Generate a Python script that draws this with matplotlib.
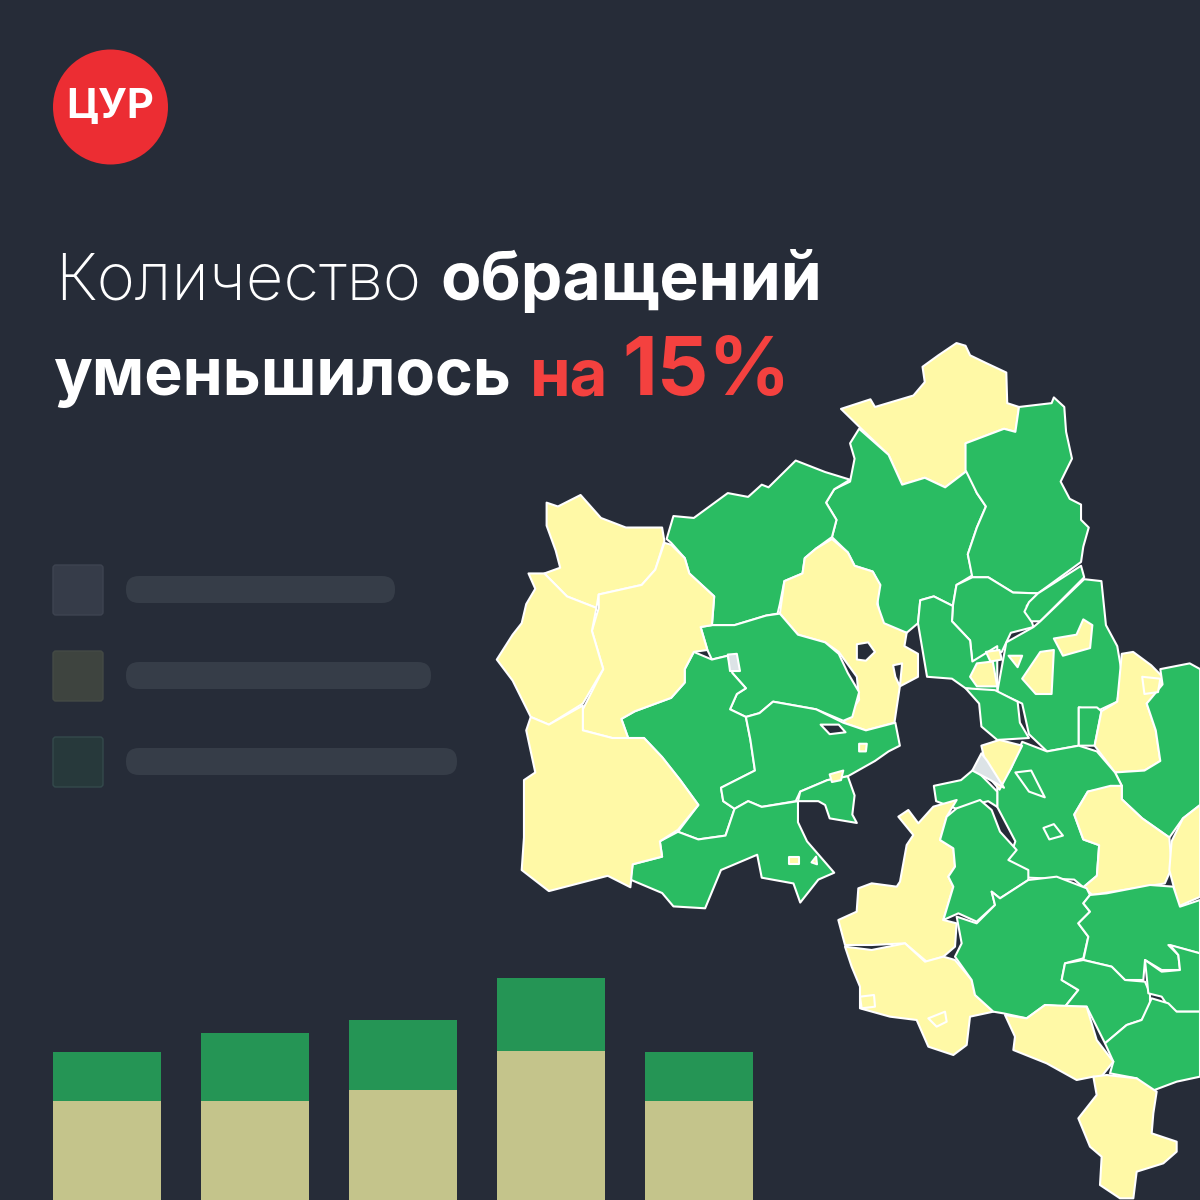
import matplotlib
matplotlib.use("Agg")
import matplotlib.pyplot as plt
from matplotlib.patches import Polygon, Circle, FancyBboxPatch

BG = "#262C38"
GREEN = "#2ABC62"
YELLOW = "#FFF9A6"
RED = "#EC2D33"
TITLE_RED = "#F4413F"
FONT = "Inter"

# stacked bars, values read in pixels of bar height
bar_lower = [99, 99, 110, 149, 99]
bar_upper = [49, 68, 70, 73, 49]
bar_left = [53, 201, 349, 497, 645]

# faded legend
legend_swatch = ["#363C49", "#3E443F", "#27393B"]
legend_edge = ["#3E4451", "#444A45", "#344A4C"]
legend_y = [565, 651, 737]
legend_pill_right = [395, 431, 457]

# map outlines, (source crop, colour class, outline)
A = "a"  # traced on the crop at (490,340), 2.208 x 2.613
B = "b"  # traced on the crop at (800,780), 3 x 3
regions = [
 (A,"y",[(775,180),(840,155),(850,175),(935,145),(960,110),(955,70),(990,40),(1030,8),(1050,15),(1060,40),(1095,60),(1140,85),(1142,165),(1168,175),(1160,240),(1135,232),(1050,270),(1055,340),(1005,385),(960,360),(910,378),(880,300),(820,232)]),
 (A,"g",[(815,232),(880,300),(910,378),(960,360),(1005,385),(1055,340),(1075,400),(1095,435),(1075,490),(1055,560),(1065,615),(1030,640),(1022,695),(980,670),(950,680),(945,740),(920,765),(865,750),(855,680),(860,640),(845,605),(805,590),(790,555),(755,515),(765,470),(742,425),(760,390),(795,370),(805,310),(795,270)]),
 (A,"g",[(1168,175),(1240,165),(1245,150),(1268,175),(1272,240),(1285,310),(1260,370),(1280,415),(1305,430),(1305,470),(1322,490),(1310,540),(1305,580),(1210,662),(1155,660),(1100,620),(1065,620),(1055,560),(1075,490),(1095,435),(1075,400),(1050,340),(1050,270),(1135,232),(1160,240)]),
 (A,"g",[(390,520),(405,460),(450,465),(525,400),(570,410),(600,378),(615,385),(675,315),(740,345),(795,365),(760,390),(742,425),(765,470),(755,515),(720,545),(695,570),(690,610),(650,630),(640,690),(635,715),(610,720),(540,745),(490,745),(495,670),(440,610),(430,570),(400,530)]),
 (A,"y",[(755,520),(790,555),(805,590),(845,605),(862,640),(855,690),(870,740),(920,765),(915,800),(945,820),(945,880),(905,905),(898,960),(893,1000),(830,1020),(780,1000),(815,940),(810,880),(770,815),(740,790),(680,770),(640,715),(650,630),(690,610),(695,570),(720,545)]),
 (A,"g",[(465,750),(490,745),(540,745),(610,720),(640,715),(680,770),(740,790),(770,820),(790,870),(815,920),(800,985),(780,995),(720,965),(625,945),(595,975),(565,985),(530,965),(545,925),(565,910),(535,870),(525,825),(490,835),(480,810)]),
 (A,"g",[(290,990),(320,970),(400,935),(430,895),(430,860),(450,815),(490,835),(525,825),(535,870),(565,910),(545,925),(530,965),(565,985),(575,1045),(585,1125),(510,1170),(515,1205),(540,1225),(520,1295),(460,1305),(415,1285),(460,1215),(420,1150),(380,1090),(340,1040),(305,1040)]),
 (A,"g",[(565,985),(595,975),(625,945),(720,965),(780,1000),(830,1020),(895,1000),(905,1060),(880,1075),(850,1100),(790,1140),(745,1150),(685,1180),(675,1205),(600,1220),(570,1205),(540,1225),(515,1205),(510,1170),(585,1125),(575,1045)]),
 (A,"g",[(680,1205),(685,1180),(745,1150),(790,1140),(805,1190),(800,1240),(810,1262),(750,1250),(740,1215),(725,1205)]),
 (A,"g",[(415,1285),(460,1305),(520,1295),(540,1225),(570,1205),(600,1220),(680,1205),(680,1260),(700,1310),(760,1392),(725,1410),(685,1470),(670,1420),(600,1405),(590,1345),(510,1385),(475,1485),(405,1480),(380,1445),(310,1410),(315,1370),(380,1350),(375,1310)]),
 (A,"y",[(125,485),(125,425),(150,435),(200,405),(245,465),(300,490),(380,490),(385,525),(365,600),(335,640),(240,665),(235,700),(170,670),(120,610),(155,595),(145,550)]),
 (A,"y",[(240,665),(335,640),(365,600),(385,530),(400,535),(430,570),(440,610),(495,670),(490,745),(465,750),(480,810),(450,815),(430,860),(430,895),(400,935),(320,970),(290,990),(305,1040),(270,1040),(205,1020),(205,965),(250,860),(225,760),(240,700)]),
 (A,"y",[(85,610),(120,610),(170,670),(235,700),(225,760),(250,860),(205,950),(130,1005),(90,985),(50,890),(15,835),(50,770),(70,740),(80,690),(100,650)]),
 (A,"y",[(90,985),(130,1005),(205,955),(205,1020),(270,1040),(305,1040),(340,1040),(380,1090),(420,1150),(460,1215),(415,1280),(375,1310),(380,1350),(315,1370),(310,1430),(260,1400),(130,1440),(70,1385),(75,1300),(75,1150),(100,1130),(80,1020)]),
 (A,"g",[(1065,620),(1100,620),(1155,660),(1210,662),(1185,695),(1200,750),(1150,765),(1130,815),(1065,840),(1060,785),(1020,735),(1022,695),(1030,640)]),
 (A,"g",[(1305,590),(1312,620),(1215,735),(1195,735),(1180,710),(1190,685),(1210,662)]),
 (A,"g",[(1312,625),(1350,630),(1360,745),(1385,800),(1395,870),(1385,945),(1340,970),(1300,960),(1300,1060),(1230,1075),(1190,1030),(1175,950),(1120,920),(1140,790),(1200,750),(1215,735)]),
 (A,"g",[(1300,960),(1340,960),(1350,970),(1335,1060),(1300,1060)]),
 (A,"g",[(950,680),(980,670),(1022,695),(1020,735),(1060,785),(1065,840),(1120,800),(1120,920),(1050,910),(1020,885),(965,880),(955,810),(945,740)]),
 (A,"g",[(1050,910),(1115,915),(1165,945),(1170,1000),(1190,1040),(1120,1045),(1085,1010),(1080,950)]),
 (A,"y",[(1395,820),(1420,815),(1460,850),(1485,880),(1480,920),(1450,950),(1470,1020),(1480,1100),(1445,1125),(1380,1130),(1335,1060),(1350,970),(1385,945)]),
 (A,"g",[(1480,860),(1545,845),(1568,860),(1568,1215),(1530,1250),(1500,1300),(1440,1250),(1395,1200),(1395,1165),(1380,1130),(1445,1125),(1480,1100),(1470,1020),(1450,950),(1485,900)]),
 (A,"g",[(1175,1050),(1230,1075),(1300,1060),(1340,1075),(1380,1130),(1395,1165),(1320,1180),(1290,1240),(1310,1305),(1345,1320),(1340,1400),(1310,1430),(1290,1410),(1190,1405),(1165,1375),(1145,1360),(1160,1310),(1120,1220),(1120,1170),(1150,1120)]),
 (A,"g",[(980,1165),(1040,1150),(1070,1120),(1120,1180),(1120,1220),(1100,1205),(1030,1225),(985,1205)]),
 (A,"y",[(1085,1060),(1125,1045),(1175,1060),(1150,1120),(1125,1175),(1100,1140)]),
 (A,"y",[(1320,1180),(1370,1165),(1395,1165),(1395,1200),(1440,1250),(1500,1300),(1505,1380),(1490,1420),(1330,1450),(1310,1430),(1340,1400),(1345,1320),(1310,1305),(1290,1240)]),
 (A,"y",[(1530,1250),(1568,1215),(1568,1455),(1520,1480),(1510,1430),(1500,1385),(1505,1310)]),
 (B,"y",[(295,110),(325,90),(355,130),(400,80),(470,60),(440,110),(420,180),(460,205),(465,260),(445,290),(460,320),(445,370),(430,420),(470,430),(465,500),(430,530),(380,545),(315,490),(215,495),(135,495),(115,420),(170,395),(175,325),(215,310),(290,320),(300,305),(320,195),(340,165)]),
 (B,"y",[(135,500),(215,510),(315,490),(375,545),(430,530),(465,540),(515,600),(525,645),(580,695),(510,710),(500,795),(460,825),(385,800),(350,720),(270,710),(180,685),(180,620),(155,560)]),
 (B,"g",[(470,85),(540,60),(575,90),(600,155),(650,210),(625,240),(685,270),(685,300),(600,355),(575,335),(585,375),(530,425),(475,400),(430,420),(445,370),(460,320),(445,290),(465,260),(460,205),(420,180),(440,110)]),
 (B,"g",[(470,410),(530,430),(585,375),(575,335),(600,355),(685,300),(770,290),(860,325),(870,345),(850,370),(870,395),(835,430),(865,470),(850,535),(795,550),(785,600),(835,630),(795,680),(735,675),(680,715),(610,700),(580,695),(525,645),(515,600),(465,530),(485,490)]),
 (B,"g",[(870,345),(920,340),(1050,315),(1120,320),(1140,380),(1200,360),(1200,520),(1105,495),(1135,525),(1140,570),(1085,570),(1035,540),(1030,600),(975,600),(935,560),(850,540),(865,470),(835,430),(870,395),(850,370)]),
 (B,"g",[(850,540),(935,560),(975,600),(1035,605),(1050,640),(1050,680),(1025,720),(980,735),(915,790),(860,680),(795,680),(835,630),(785,600),(795,550)]),
 (B,"g",[(1035,540),(1085,575),(1140,570),(1135,525),(1110,495),(1200,520),(1200,695),(1115,695),(1085,650),(1045,640)]),
 (B,"g",[(915,790),(980,735),(1025,720),(1055,655),(1105,670),(1130,695),(1200,695),(1200,890),(1130,905),(1050,935),(1010,895),(930,880),(940,845)]),
 (B,"y",[(615,705),(680,715),(735,675),(860,680),(890,780),(940,845),(900,895),(880,890),(830,900),(740,850),(640,810),(645,770)]),
 (B,"y",[(880,890),(920,885),(1010,895),(1070,935),(1060,1000),(1055,1060),(1130,1085),(1130,1115),(1090,1150),(1010,1175),(1000,1255),(960,1255),(900,1215),(905,1130),(870,1100),(835,1015),(890,945)]),
 # small enclaves
 (A,"y",[(1060,880),(1075,845),(1110,840),(1120,905),(1075,905)]),
 (A,"y",[(1095,815),(1125,810),(1130,835),(1105,840)]),
 (A,"y",[(1145,825),(1175,825),(1165,855)]),
 (A,"y",[(1175,885),(1215,815),(1245,810),(1240,925),(1205,925)]),
 (A,"y",[(1245,780),(1295,770),(1310,730),(1330,745),(1325,805),(1265,825)]),
 (A,"y",[(1440,880),(1480,885),(1475,920),(1445,925)]),
 (A,"y",[(660,1350),(682,1350),(682,1370),(660,1370)]),
 (A,"y",[(815,1055),(832,1055),(830,1075),(815,1075)]),
 (A,"y",[(750,1135),(780,1125),(775,1150),(755,1155)]),
 (A,"y",[(710,1365),(720,1350),(722,1370)]),
 (A,"g",[(1160,1130),(1195,1125),(1225,1195),(1190,1180)]),
 (A,"g",[(1222,1275),(1245,1265),(1265,1295),(1235,1305)]),
 (B,"y",[(385,715),(435,695),(440,725),(410,740)]),
 (B,"y",[(180,650),(222,645),(225,680),(185,685)]),
 (A,"p",[(525,822),(545,820),(552,865),(530,865)]),
 (A,"p",[(1085,1080),(1098,1100),(1135,1170),(1105,1150),(1065,1125)]),
 (A,"d",[(810,795),(835,790),(850,815),(830,838),(810,835)]),
 (A,"d",[(890,850),(910,845),(905,905),(895,880)]),
 (A,"d",[(730,1005),(770,1005),(785,1025),(750,1030)]),
]
fills = {"y": YELLOW, "g": GREEN, "p": "#DCE3E6", "d": BG}
origins = {A: (490, 340, 2.208, 2.613), B: (800, 780, 3.0, 3.0)}

fig = plt.figure(figsize=(12, 12), dpi=100, facecolor=BG)
ax = fig.add_axes([0, 0, 1, 1])
ax.set_xlim(0, 1200)
ax.set_ylim(1200, 0)
ax.axis("off")

for crop, cls, pts in regions:
    ox, oy, sx, sy = origins[crop]
    ax.add_patch(Polygon([(ox + x / sx, oy + y / sy) for x, y in pts], closed=True,
                         facecolor=fills[cls], edgecolor="white",
                         linewidth=1.5, joinstyle="round", zorder=2))

# logo
ax.add_patch(Circle((110.5, 107), 57.5, facecolor=RED, edgecolor="none", zorder=3))
ax.text(110.5, 107, "ЦУР", color="white", family=FONT, weight="bold", fontsize=30,
        ha="center", va="center", zorder=4)

# headline
words = [
    (55, 300, "Количество", "white", "light", 47),
    (440, 300, "обращений", "white", "bold", 47.5),
    (53, 395, "уменьшилось", "white", "bold", 46.5),
    (530, 395, "на", TITLE_RED, "bold", 47),
    (622, 395, "15%", TITLE_RED, "bold", 58),
]
for x, y, s, c, w, fs in words:
    ax.text(x, y, s, color=c, family=FONT, weight=w, fontsize=fs,
            ha="left", va="baseline", zorder=4)

# legend
for y, col, edge, right in zip(legend_y, legend_swatch, legend_edge, legend_pill_right):
    ax.add_patch(FancyBboxPatch((55, y + 2), 46, 46, boxstyle="round,pad=2,rounding_size=3",
                                facecolor=col, edgecolor=edge, linewidth=1, zorder=1))
    ax.add_patch(FancyBboxPatch((126, y + 11), right - 126, 27, boxstyle="round,pad=0,rounding_size=13",
                                facecolor="#363D48", edgecolor="none", zorder=1))

# stacked bars
for left, lo, up in zip(bar_left, bar_lower, bar_upper):
    ax.bar(left, -lo, width=108, bottom=1200, align="edge", color="#C4C48B", zorder=2)
    ax.bar(left, -up, width=108, bottom=1200 - lo, align="edge", color="#259555", zorder=2)

ax.set_xlim(0, 1200)
ax.set_ylim(1200, 0)
fig.savefig("out.png", dpi=100, facecolor=BG)
